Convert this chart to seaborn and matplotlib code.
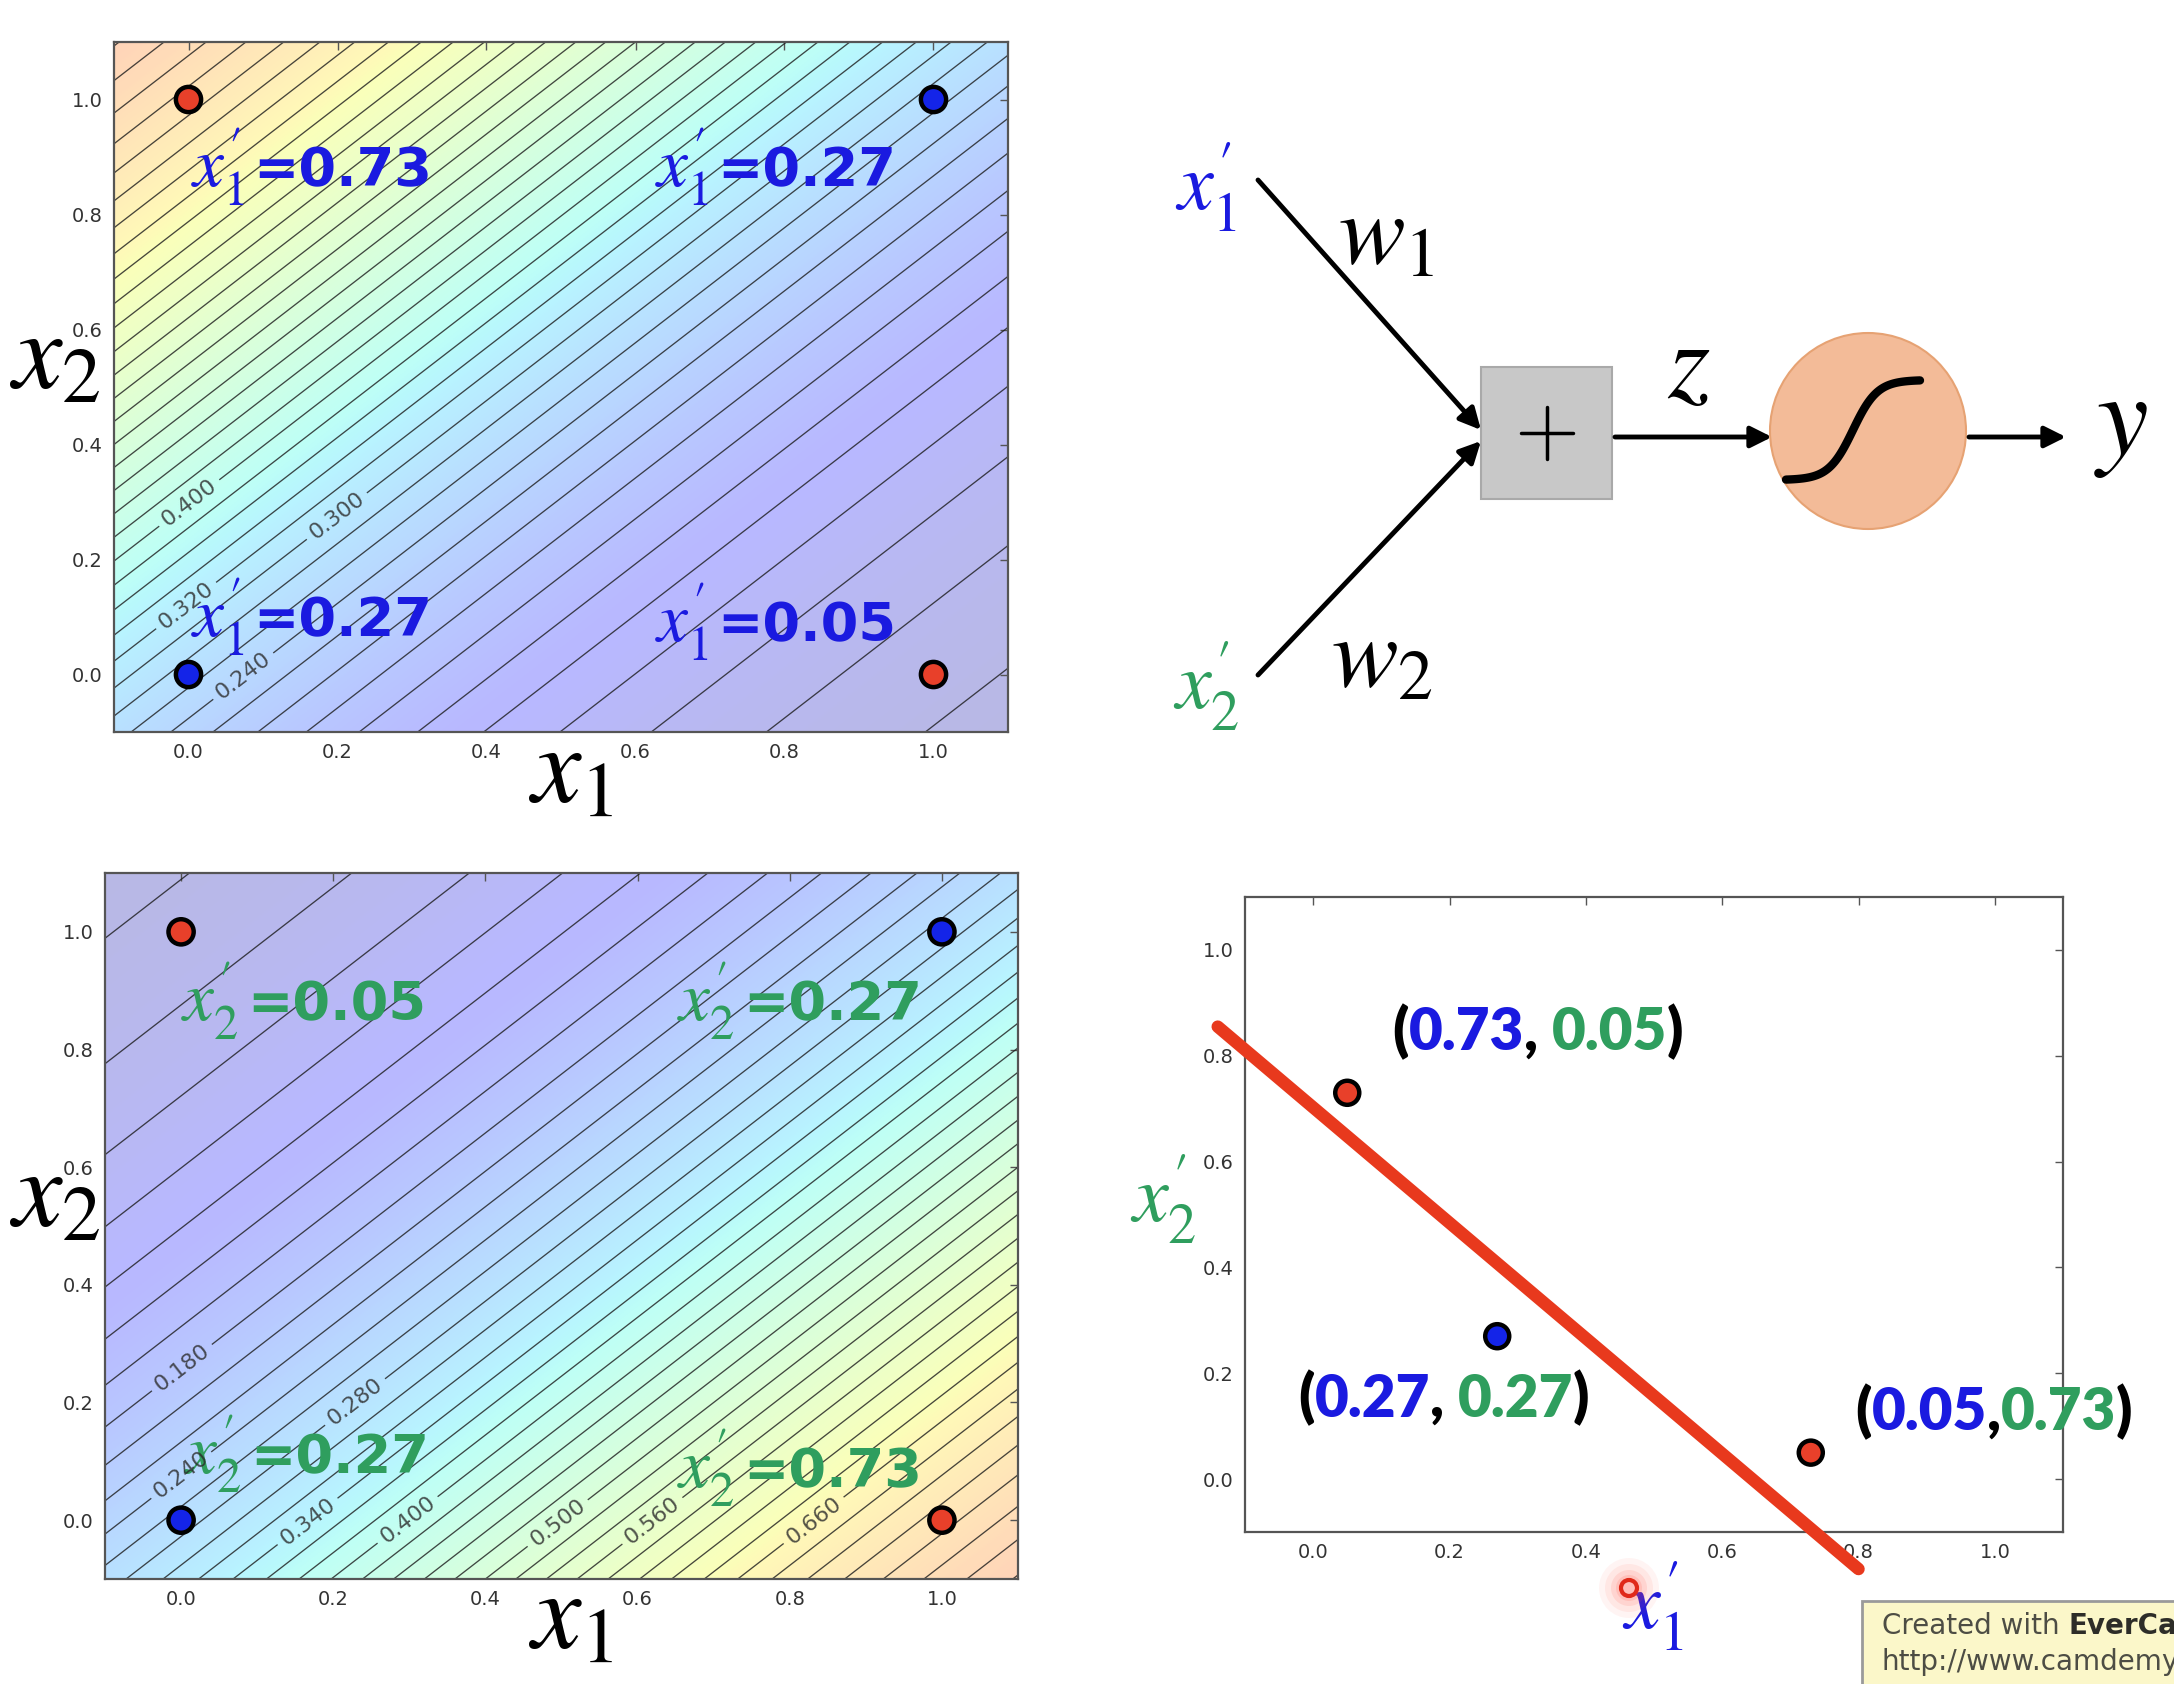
import numpy as np
import matplotlib
matplotlib.use("Agg")
import matplotlib.pyplot as plt
import seaborn as sns
from matplotlib.patches import Rectangle, Circle

# ---------------- data ----------------
corner_x1 = [0.0, 1.0, 0.0, 1.0]
corner_x2 = [1.0, 1.0, 0.0, 0.0]
corner_class = ["red", "blue", "blue", "red"]
x1p_text = ["0.73", "0.27", "0.27", "0.05"]      # hidden unit 1 output at each corner
x2p_text = ["0.05", "0.27", "0.27", "0.73"]      # hidden unit 2 output at each corner
w_h1 = [-2.0, 2.0]
b_h1 = -1.0
w_h2 = [2.0, -2.0]
b_h2 = -1.0
contour_step = 0.02
tl_label_levels = [0.40, 0.30, 0.32, 0.24]
bl_label_levels = [0.18, 0.28, 0.24, 0.34, 0.40, 0.50, 0.56, 0.66]

hidden_x1p = [0.05, 0.27, 0.73]
hidden_x2p = [0.73, 0.27, 0.05]
hidden_class = ["red", "blue", "red"]
hidden_labels = [("0.73", ", ", "0.05"), ("0.27", ", ", "0.27"), ("0.05", ",", "0.73")]
boundary_x1p = [-0.14, 0.80]
boundary_x2p = [0.855, -0.17]
tick_vals = [0.0, 0.2, 0.4, 0.6, 0.8, 1.0]
tick_labels = ["0.0", "0.2", "0.4", "0.6", "0.8", "1.0"]

# ---------------- layout / style ----------------
W, H = 2174, 1684
BLUE = "#1a1ae0"
GREEN = "#2f9e5e"
RED_PT = "#e8402a"
BLUE_PT = "#1424e8"
LINE_RED = "#e8391d"
XP1 = r"$x_1^{\prime}$"
XP2 = r"$x_2^{\prime}$"

sns.set_theme(style="white")
plt.rcParams["font.family"] = ["DejaVu Sans"]
plt.rcParams["mathtext.fontset"] = "stix"

fig = plt.figure(figsize=(W / 100, H / 100), dpi=100)
fig.patch.set_facecolor("white")

ax_tl = fig.add_axes([114 / W, 1 - 732 / H, 894 / W, 690 / H])
ax_bl = fig.add_axes([105 / W, 1 - 1579 / H, 913 / W, 706 / H])
ax_br = fig.add_axes([1245 / W, 1 - 1532 / H, 818 / W, 635 / H])


def style_axes(ax):
    ax.set_xlim(-0.1, 1.1)
    ax.set_ylim(-0.1, 1.1)
    ax.set_xticks(tick_vals)
    ax.set_yticks(tick_vals)
    ax.set_xticklabels(tick_labels)
    ax.set_yticklabels(tick_labels)
    ax.tick_params(direction="in", top=True, right=True, length=6, width=1,
                   color="#555555", labelsize=14, labelcolor="#333333", pad=8)
    for sp in ax.spines.values():
        sp.set_color("#555555")
        sp.set_linewidth(1.6)
        sp.set_visible(True)
    ax.set_facecolor("white")


def chain(ax, x, y, pieces):
    prev = None
    for s, kw in pieces:
        kw = dict(kw)
        dx = kw.pop("dx", 0)
        if prev is None:
            prev = ax.text(x, y, s, ha="left", va="baseline", **kw)
        else:
            prev = ax.annotate(s, xy=(1.0, y), xycoords=(prev, "data"),
                               xytext=(dx, 0), textcoords="offset points",
                               ha="left", va="baseline", annotation_clip=False, **kw)
    return prev


grid = np.linspace(-0.1, 1.1, 400)
GX, GY = np.meshgrid(grid, grid)
levels = np.round(np.arange(contour_step, 1.0, contour_step), 2)


def contour_panel(ax, w, b, label_levels, label_pos, texts, sub, color, sym):
    Z = 1.0 / (1.0 + np.exp(-(w[0] * GX + w[1] * GY + b)))
    ax.imshow(Z, extent=(-0.1, 1.1, -0.1, 1.1), origin="lower", cmap="jet",
              vmin=0, vmax=1, alpha=0.28, aspect="auto", interpolation="bilinear")
    plain = [lv for lv in levels if not np.any(np.isclose(lv, label_levels))]
    line_kw = dict(colors="k", linewidths=0.95, alpha=0.8)
    ax.contour(GX, GY, Z, levels=plain, **line_kw)
    for lv, pos in zip(label_levels, label_pos):
        cs = ax.contour(GX, GY, Z, levels=[lv], **line_kw)
        ax.clabel(cs, manual=[pos], fmt="%.3f", fontsize=16,
                  colors="#2a2a2a", inline=True, inline_spacing=6)
    sns.scatterplot(x=corner_x1, y=corner_x2, hue=corner_class,
                    palette={"red": RED_PT, "blue": BLUE_PT}, s=330,
                    edgecolor="black", linewidth=3.2, legend=False, ax=ax, zorder=6)
    for (tx, ty), val in zip(texts, sub):
        chain(ax, tx, ty, [(sym, dict(fontsize=50, color=color)),
                           ("=" + val, dict(fontsize=39, color=color, fontweight="bold", dx=6))])
    style_axes(ax)


# top-left: hidden unit 1
contour_panel(ax_tl, w_h1, b_h1, tl_label_levels,
              [(0.0, 0.30), (0.197, 0.279), (-0.005, 0.123), (0.073, -0.002)],
              [(0.004, 0.849), (0.626, 0.849), (0.004, 0.067), (0.626, 0.058)],
              x1p_text, BLUE, XP1)
# bottom-left: hidden unit 2
contour_panel(ax_bl, w_h2, b_h2, bl_label_levels,
              [(0.0, 0.261), (0.228, 0.202), (-0.009, 0.092), (0.168, -0.005),
               (0.295, 0.005), (0.495, -0.005), (0.62, -0.002), (0.83, 0.002)],
              [(0.0, 0.849), (0.652, 0.849), (0.004, 0.08), (0.652, 0.056)],
              x2p_text, GREEN, XP2)

for ax, lx, ly, yx, yy in [(ax_tl, 0.511, 0.018, -0.066, 0.543),
                           (ax_bl, 0.51, 0.02, -0.055, 0.543)]:
    ax.set_xlabel(r"$x_1$", fontsize=80, color="black", va="top")
    ax.xaxis.set_label_coords(lx, ly)
    ax.set_ylabel(r"$x_2$", fontsize=80, color="black", rotation=0, ha="center", va="center")
    ax.yaxis.set_label_coords(yx, yy)

# bottom-right: hidden space
sns.lineplot(x=boundary_x1p, y=boundary_x2p, sort=False, color=LINE_RED, lw=9,
             ax=ax_br, clip_on=False, zorder=3)
sns.scatterplot(x=hidden_x1p, y=hidden_x2p, hue=hidden_class,
                palette={"red": RED_PT, "blue": BLUE_PT}, s=300,
                edgecolor="black", linewidth=3.2, legend=False, ax=ax_br, zorder=6)
style_axes(ax_br)
bkw = dict(fontsize=42, fontweight="heavy", family=["Lato", "DejaVu Sans"])
for (a, sep, c), (tx, ty) in zip(hidden_labels, [(0.116, 0.81), (-0.022, 0.118), (0.795, 0.092)]):
    chain(ax_br, tx, ty, [("(", dict(color="black", **bkw)),
                          (a, dict(color=BLUE, **bkw)),
                          (sep, dict(color="black", **bkw)),
                          (c, dict(color=GREEN, **bkw)),
                          (")", dict(color="black", **bkw))])
ax_br.set_xlabel(XP1, fontsize=58, color=BLUE, va="center")
ax_br.xaxis.set_label_coords(0.499, -0.117)
ax_br.set_ylabel(XP2, fontsize=58, color=GREEN, rotation=0, ha="center", va="center")
ax_br.yaxis.set_label_coords(-0.10, 0.524)

# ---------------- overlay: neuron diagram + watermark ----------------
ov = fig.add_axes([0, 0, 1, 1], zorder=10)
ov.set_xlim(0, W)
ov.set_ylim(H, 0)
ov.axis("off")
ov.patch.set_alpha(0)

arrow_kw = dict(arrowstyle="-|>", lw=3.5, color="black", mutation_scale=32, shrinkA=0, shrinkB=0)
ov.annotate("", xy=(1481, 430), xytext=(1258, 180), arrowprops=arrow_kw)
ov.annotate("", xy=(1481, 441), xytext=(1258, 675), arrowprops=arrow_kw)
ov.add_patch(Rectangle((1481, 367), 131, 132, facecolor="#c8c8c8", edgecolor="#a9a9a9", lw=1.5))
ov.plot([1521, 1573], [433, 433], color="black", lw=2.5)
ov.plot([1547, 1547], [407, 459], color="black", lw=2.5)
ov.annotate("", xy=(1772, 437), xytext=(1615, 437), arrowprops=arrow_kw)
ov.add_patch(Circle((1868, 431), 98, facecolor="#f3bb98", edgecolor="#e6a273", lw=1.5))
u = np.linspace(0, 1, 120)
ov.plot(1786 + 134 * u, 480 - 100 / (1 + np.exp(-11 * (u - 0.5))), color="black", lw=6,
        solid_capstyle="round")
ov.annotate("", xy=(2066, 437), xytext=(1969, 437), arrowprops=arrow_kw)
ov.text(1206, 187, XP1, fontsize=58, color=BLUE, ha="center", va="center")
ov.text(1206, 686, XP2, fontsize=58, color=GREEN, ha="center", va="center")
ov.text(1386, 236, r"$w_1$", fontsize=72, color="black", ha="center", va="center")
ov.text(1382, 659, r"$w_2$", fontsize=72, color="black", ha="center", va="center")
ov.text(1689, 367, r"$z$", fontsize=78, color="black", ha="center", va="center")
ov.text(2121, 423, r"$y$", fontsize=84, color="black", ha="center", va="center")

# cursor highlight
for r, a in [(30, 0.06), (24, 0.08), (18, 0.12), (13, 0.15)]:
    ov.add_patch(Circle((1629, 1588), r, facecolor="#ff5040", edgecolor="none", alpha=a))
ov.add_patch(Circle((1629, 1588), 8, facecolor="none", edgecolor="#e02a1a", lw=3))

# watermark
ov.add_patch(Rectangle((1862, 1601), 400, 140, facecolor="#fbf7c9", edgecolor="#9a9a9a", lw=2))
chain(ov, 1882, 1634, [("Created with ", dict(fontsize=20, color="#4d4d44")),
                       ("EverCam", dict(fontsize=20, color="#2d2d28", fontweight="bold"))])
ov.text(1882, 1670, "http://www.camdemy.com", fontsize=20, color="#4d4d44", ha="left", va="baseline")

fig.savefig("out.png", dpi=100)
